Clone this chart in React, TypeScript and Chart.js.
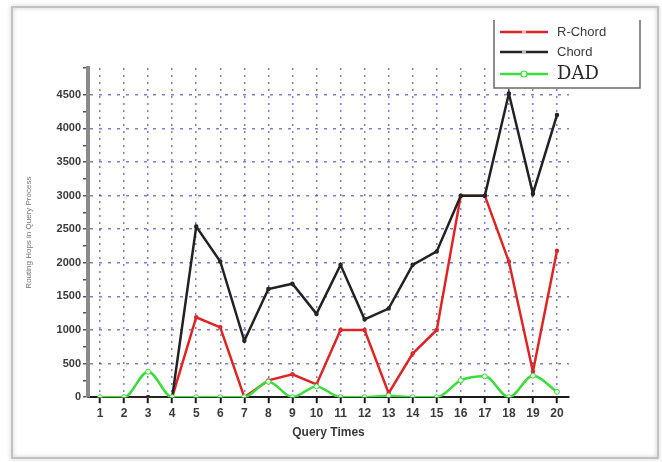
import React, { useEffect, useRef } from 'react';
import { Chart, registerables } from 'chart.js';

Chart.register(...registerables);

const queryTimes = ['1', '2', '3', '4', '5', '6', '7', '8', '9', '10', '11', '12', '13', '14', '15', '16', '17', '18', '19', '20'];
const rChord = [0, 0, 0, 0, 1190, 1040, 0, 250, 340, 190, 1000, 1000, 60, 650, 1000, 3000, 3000, 2020, 380, 2180];
const chord = [0, 0, 0, 0, 2540, 2020, 840, 1610, 1690, 1240, 1970, 1160, 1320, 1970, 2170, 3000, 3000, 4520, 3030, 4200];
const dad = [0, 0, 380, 0, 0, 0, 0, 230, 0, 160, 0, 0, 20, 0, 0, 250, 310, 0, 320, 80];
const seriesNames = ['R-Chord', 'Chord', 'DAD'];
const seriesColors = ['#e02424', '#222222', '#3ddc3d'];
const yMax = 4900;
const yMinorStep = 250;
const yMajorStep = 500;
const xTitle = 'Query Times';
const yTitle = 'Routing Hops in Query Process';

const framePlugin = {
  id: 'frame',
  beforeDraw(chart: any) {
    const ctx = chart.ctx;
    ctx.save();
    ctx.fillStyle = '#ffffff';
    ctx.fillRect(0, 0, chart.width, chart.height);
    ctx.shadowColor = 'rgba(0,0,0,0.25)';
    ctx.shadowBlur = 4;
    ctx.strokeStyle = '#c2c2c2';
    ctx.lineWidth = 2;
    ctx.strokeRect(12, 7, 646, 451);
    ctx.restore();
  },
};

const legendPlugin = {
  id: 'boxLegend',
  afterDraw(chart: any) {
    const ctx = chart.ctx;
    ctx.save();
    ctx.strokeStyle = '#6a6a6a';
    ctx.lineWidth = 1.5;
    ctx.fillStyle = '#ffffff';
    ctx.fillRect(494, 20, 146, 68);
    ctx.beginPath();
    ctx.moveTo(494, 20);
    ctx.lineTo(494, 88);
    ctx.lineTo(640, 88);
    ctx.lineTo(640, 20);
    ctx.stroke();
    const rows = [32, 52, 74];
    chart.data.datasets.forEach((ds: any, i: number) => {
      const y = rows[i];
      ctx.strokeStyle = ds.borderColor;
      ctx.lineWidth = 2.5;
      ctx.beginPath();
      ctx.moveTo(500, y);
      ctx.lineTo(548, y);
      ctx.stroke();
      if (i === 2) {
        ctx.fillStyle = '#e8ffe8';
        ctx.lineWidth = 1.2;
        ctx.beginPath();
        ctx.arc(524, y, 3, 0, Math.PI * 2);
        ctx.fill();
        ctx.stroke();
        ctx.font = '18px "DejaVu Serif", "Liberation Serif", serif';
        ctx.fillStyle = '#2a2a2a';
      } else {
        ctx.fillStyle = 'rgba(255,255,255,0.7)';
        ctx.fillRect(522, y - 1, 4, 2);
        ctx.font = '13px "Liberation Sans", Arial, sans-serif';
        ctx.fillStyle = '#3a3a3a';
      }
      ctx.textBaseline = 'middle';
      ctx.textAlign = 'left';
      ctx.fillText(ds.label, 557, y);
    });
    ctx.restore();
  },
};

export default function App() {
  const ref = useRef<HTMLCanvasElement | null>(null);

  useEffect(() => {
    if (!ref.current) return;
    const gridBlue = 'rgba(70,70,190,0.7)';
    const chart = new Chart(ref.current, {
      type: 'line',
      data: {
        labels: queryTimes,
        datasets: [
          {
            label: seriesNames[0],
            data: rChord,
            borderColor: seriesColors[0],
            backgroundColor: seriesColors[0],
            borderWidth: 2.5,
            pointRadius: 1,
            pointBackgroundColor: '#ffb0b0',
            pointBorderColor: seriesColors[0],
            tension: 0,
            order: 3,
          },
          {
            label: seriesNames[1],
            data: chord,
            borderColor: seriesColors[1],
            backgroundColor: seriesColors[1],
            borderWidth: 2.5,
            pointRadius: 1,
            pointBackgroundColor: '#999999',
            pointBorderColor: seriesColors[1],
            tension: 0,
            order: 2,
          },
          {
            label: seriesNames[2],
            data: dad,
            borderColor: seriesColors[2],
            backgroundColor: '#e8ffe8',
            borderWidth: 2.5,
            pointRadius: 2.5,
            pointBorderWidth: 1,
            pointBackgroundColor: '#e8ffe8',
            pointBorderColor: seriesColors[2],
            tension: 0.4,
            cubicInterpolationMode: 'monotone',
            order: 1,
          },
        ],
      },
      options: {
        responsive: false,
        animation: false,
        layout: { padding: { left: 0, top: 68, right: 93, bottom: 18 } },
        plugins: {
          legend: { display: false },
          tooltip: { enabled: false },
        },
        scales: {
          x: {
            type: 'category',
            offset: true,
            border: { color: '#1a1a1a', width: 2, dash: [2, 5] },
            grid: {
              offset: false,
              color: gridBlue,
              lineWidth: 1.5,
              tickColor: '#1a1a1a',
              tickLength: 6,
              tickBorderDash: [],
              tickWidth: 2,
            },
            ticks: {
              color: '#3a3a3a',
              padding: 3,
              maxRotation: 0,
              autoSkip: false,
              font: { family: '"Liberation Sans", Arial, sans-serif', size: 12, weight: 'bold' },
            },
            title: {
              display: true,
              text: xTitle,
              color: '#3a3a3a',
              padding: { top: 2, bottom: 4 },
              font: { family: '"Liberation Sans", Arial, sans-serif', size: 12, weight: 'bold' },
            },
          },
          y: {
            min: 0,
            max: yMax,
            border: { color: '#8a8a8a', width: 4, dash: [3, 6] },
            afterFit: (scale: any) => {
              scale.width = 88;
            },
            grid: {
              color: (c: any) => {
                const v = c.tick ? c.tick.value : 0;
                return v > 0 && v % yMajorStep === 0 ? gridBlue : 'rgba(0,0,0,0)';
              },
              lineWidth: 1.5,
              tickColor: '#555555',
              tickLength: 5,
              tickBorderDash: [],
              tickWidth: 1.5,
            },
            ticks: {
              stepSize: yMinorStep,
              color: '#3a3a3a',
              padding: 2,
              autoSkip: false,
              callback: (v: any) => (Number(v) % yMajorStep === 0 ? String(v) : ''),
              font: { family: '"Liberation Sans", Arial, sans-serif', size: 11, weight: 'bold' },
            },
            title: {
              display: true,
              text: yTitle,
              color: '#777777',
              padding: { top: 24, bottom: 0 },
              font: { family: '"Liberation Sans", Arial, sans-serif', size: 8 },
            },
          },
        },
      } as any,
      plugins: [framePlugin, legendPlugin],
    });
    return () => chart.destroy();
  }, []);

  return (
    <div style={{ position: 'fixed', left: 0, top: 0, width: 662, height: 462, background: '#fff' }}>
      <canvas ref={ref} width={662} height={462} style={{ display: 'block' }} />
    </div>
  );
}
